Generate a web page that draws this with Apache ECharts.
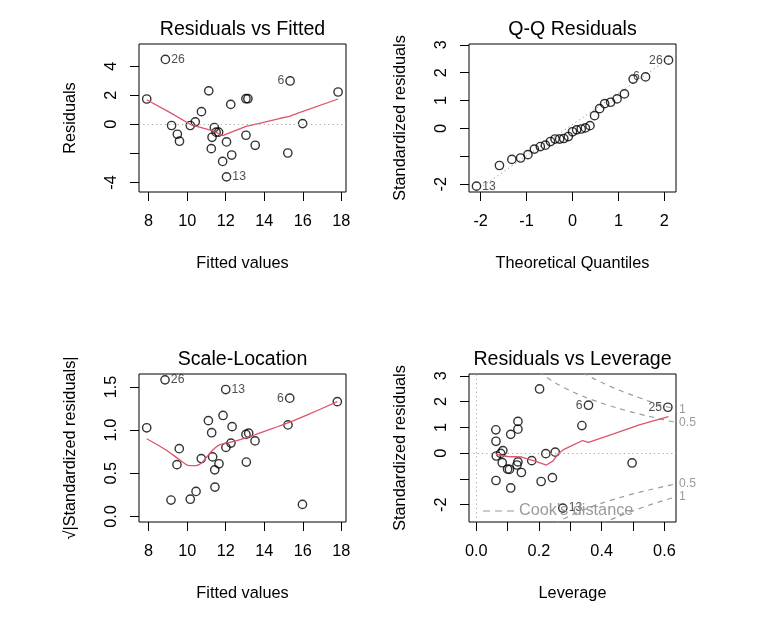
<!DOCTYPE html>
<html>
<head>
<meta charset="utf-8">
<script src="https://cdn.jsdelivr.net/npm/echarts@6/dist/echarts.min.js"></script>
<style>html,body{margin:0;padding:0;background:#fff}#c{width:772px;height:630px}</style>
</head>
<body>
<div id="c"></div>
<script>
const FONT = '"Liberation Sans", Arial, Helvetica, sans-serif';

// ---- Panel 1: Residuals vs Fitted ----
const rvfFitted = [7.90, 8.87, 9.19, 9.49, 9.60, 10.16, 10.42, 10.74, 11.12, 11.25, 11.29, 11.41, 11.50, 11.63, 11.84, 12.04, 12.04, 12.26, 12.31, 13.05, 13.15, 13.05, 13.53, 15.22, 15.34, 15.99, 17.83];
const rvfResid  = [1.74, 4.46, -0.08, -0.68, -1.16, -0.08, 0.17, 0.87, 2.30, -1.67, -0.89, -0.22, -0.54, -0.54, -2.55, -1.21, -3.61, 1.37, -2.11, 1.76, 1.76, -0.75, -1.44, -1.97, 2.98, 0.05, 2.22];
const rvfLabel  = ['', '26', '', '', '', '', '', '', '', '', '', '', '', '', '', '', '13', '', '', '', '', '', '', '', '6', '', ''];
const rvfSmoothX = [7.90, 9.07, 10.20, 11.31, 11.84, 13.05, 13.74, 14.78, 15.30, 15.82, 17.83];
const rvfSmoothY = [1.69, 0.84, -0.03, -0.43, -0.77, -0.14, 0.06, 0.40, 0.55, 0.80, 1.74];
const rvfXTicks = [8, 10, 12, 14, 16, 18];
const rvfYTicks = [-4, -2, 0, 2, 4];
const rvfYLabels = [-4, 0, 2, 4];

// ---- Panel 2: Q-Q Residuals ----
const qqTheo = [-2.09, -1.59, -1.32, -1.13, -0.97, -0.83, -0.70, -0.59, -0.48, -0.38, -0.28, -0.19, -0.09, 0.00, 0.09, 0.19, 0.28, 0.38, 0.48, 0.59, 0.70, 0.83, 0.97, 1.13, 1.32, 1.59, 2.09];
const qqStd  = [-2.07, -1.33, -1.11, -1.06, -0.94, -0.74, -0.65, -0.60, -0.47, -0.38, -0.38, -0.36, -0.29, -0.12, -0.05, -0.02, 0.02, 0.10, 0.46, 0.71, 0.89, 0.94, 1.06, 1.24, 1.77, 1.85, 2.45];
const qqLabel = ['13', '', '', '', '', '', '', '', '', '', '', '', '', '', '', '', '', '', '', '', '', '', '', '', '', '6', '26'];
const qqLineX = [-2.253, 2.253];
const qqLineY = [-2.40, 2.68];
const qqXTicks = [-2, -1, 0, 1, 2];
const qqYTicks = [-2, -1, 0, 1, 2, 3];
const qqYLabels = [-2, 0, 1, 2, 3];

// ---- Panel 3: Scale-Location ----
const slFitted = [7.90, 8.85, 9.16, 9.47, 9.59, 10.16, 10.46, 10.73, 11.10, 11.27, 11.32, 11.43, 11.44, 11.65, 11.86, 12.00, 12.01, 12.27, 12.33, 13.05, 13.07, 13.19, 13.52, 15.23, 15.32, 15.98, 17.79];
const slSqrt   = [1.027, 1.582, 0.19, 0.60, 0.785, 0.20, 0.29, 0.67, 1.11, 0.97, 0.69, 0.54, 0.34, 0.61, 1.17, 1.47, 0.80, 0.85, 1.04, 0.95, 0.63, 0.965, 0.875, 1.06, 1.37, 0.14, 1.33];
const slLabel  = ['', '26', '', '', '', '', '', '', '', '', '', '', '', '', '', '13', '', '', '', '', '', '', '', '', '6', '', ''];
const slSmoothX = [7.90, 8.90, 9.59, 10.11, 10.46, 10.80, 11.24, 11.67, 12.27, 13.05, 13.57, 14.44, 15.30, 16.17, 17.79];
const slSmoothY = [0.90, 0.77, 0.66, 0.59, 0.59, 0.63, 0.75, 0.83, 0.86, 0.91, 0.95, 1.02, 1.09, 1.17, 1.33];
const slYTicks = [0, 0.5, 1, 1.5];

// ---- Panel 4: Residuals vs Leverage ----
const lvHat = [0.0626, 0.063, 0.064, 0.085, 0.078, 0.083, 0.100, 0.106, 0.133, 0.130, 0.144, 0.110, 0.133, 0.133, 0.063, 0.110, 0.177, 0.222, 0.252, 0.207, 0.243, 0.337, 0.276, 0.202, 0.358, 0.497, 0.611];
const lvStd = [0.905, 0.46, -0.11, 0.10, -0.01, -0.37, -0.62, -0.63, -0.34, -0.46, -0.75, 0.73, 1.23, 0.93, -1.06, -1.35, -0.29, -0.02, 0.04, -1.10, -0.95, 1.07, -2.13, 2.49, 1.86, -0.38, 1.78];
const lvLabel = ['', '', '', '', '', '', '', '', '', '', '', '', '', '', '', '', '', '', '', '', '', '', '13', '', '6', '', '25'];
const lvSmoothX = [0.063, 0.10, 0.145, 0.185, 0.224, 0.245, 0.262, 0.28, 0.30, 0.339, 0.358, 0.44, 0.52, 0.613];
const lvSmoothY = [-0.05, -0.13, -0.15, -0.30, -0.46, -0.30, -0.02, 0.15, 0.26, 0.49, 0.42, 0.76, 1.10, 1.42];
const cook05UpH = [0.20, 0.22, 0.25, 0.30, 0.35, 0.40, 0.45, 0.50, 0.55, 0.60, 0.637];
const cook05UpY = [3.16, 2.98, 2.74, 2.42, 2.16, 1.94, 1.75, 1.58, 1.43, 1.29, 1.19];
const cook1UpH = [0.34, 0.37, 0.40, 0.45, 0.50, 0.55, 0.60, 0.637];
const cook1UpY = [3.12, 2.92, 2.74, 2.47, 2.24, 2.02, 1.83, 1.69];
const cook05LowH = [0.25, 0.30, 0.35, 0.40, 0.45, 0.50, 0.55, 0.60, 0.637];
const cook05LowY = [-2.74, -2.42, -2.16, -1.94, -1.75, -1.58, -1.43, -1.29, -1.19];
const cook1LowH = [0.40, 0.45, 0.50, 0.55, 0.60, 0.637];
const cook1LowY = [-2.74, -2.47, -2.24, -2.02, -1.83, -1.69];
const lvXTicks = [0, 0.1, 0.2, 0.3, 0.4, 0.5, 0.6];
const lvXLabels = [0, 0.2, 0.4, 0.6];
const lvYTicks = [-2, -1, 0, 1, 2, 3];
const lvYLabels = [-2, 0, 1, 2, 3];

// ---------------- build ----------------
const LS = 16.3;
const ranges = [
  {x: [7.5, 18.24], y: [-4.65, 5.52]},
  {x: [-2.253, 2.253], y: [-2.28, 3.03]},
  {x: [7.5, 18.24], y: [-0.064, 1.65]},
  {x: [-0.023, 0.637], y: [-2.67, 3.07]}
];
const gridBoxes = [
  {left: 139, top: 44, width: 207, height: 148},
  {left: 469, top: 44, width: 207, height: 148},
  {left: 139, top: 374, width: 207, height: 148},
  {left: 469, top: 374, width: 207, height: 148}
];
const grids = gridBoxes.map(g => Object.assign({show: true, borderColor: '#000', borderWidth: 1, backgroundColor: 'transparent'}, g));

function axis(gi, isY, ticks, labels, name, fmt) {
  const r = isY ? ranges[gi].y : ranges[gi].x;
  return {
    type: 'value', gridIndex: gi, min: r[0], max: r[1],
    name: name, nameLocation: 'middle', nameGap: isY ? 60 : 64,
    nameTextStyle: {fontSize: LS, color: '#000', fontFamily: FONT},
    axisLine: {show: false, onZero: false},
    splitLine: {show: false},
    axisTick: {show: true, length: 9, inside: false, lineStyle: {color: '#000', width: 1}, customValues: ticks},
    axisLabel: {show: true, customValues: labels, margin: isY ? 19 : 22, fontSize: LS, color: '#000',
      fontFamily: FONT, rotate: isY ? 90 : 0, formatter: fmt || (v => String(v))}
  };
}
const f1 = v => Number(v).toFixed(1);

function pts(xs, ys) { return xs.map((x, i) => [x, ys[i]]); }

function scatter(gi, xs, ys, labs) {
  const mid = (ranges[gi].x[0] + ranges[gi].x[1]) / 2;
  return {
    type: 'scatter', xAxisIndex: gi, yAxisIndex: gi, symbol: 'circle', symbolSize: 8.3, z: 3,
    itemStyle: {color: 'rgba(0,0,0,0)', borderColor: '#000', borderWidth: 1.4},
    label: {show: false, fontSize: 12.2, color: '#222', fontFamily: FONT, distance: 1},
    emphasis: {disabled: true}, silent: true,
    data: xs.map((x, i) => {
      const d = {value: [x, ys[i]]};
      if (labs[i]) d.label = {show: true, formatter: labs[i], position: x > mid ? 'left' : 'right'};
      return d;
    })
  };
}

function line(gi, xs, ys, lineStyle, extra) {
  return Object.assign({
    type: 'line', xAxisIndex: gi, yAxisIndex: gi, data: pts(xs, ys),
    symbol: 'none', showSymbol: false, silent: true, z: 4, clip: true,
    lineStyle: lineStyle, emphasis: {disabled: true}
  }, extra || {});
}

const RED = {color: '#DF536B', width: 1.3};
const DOT = {type: [1.3, 3], color: '#aaa', width: 1};
function refLines(data) {
  return {silent: true, symbol: ['none', 'none'], label: {show: false}, lineStyle: DOT, emphasis: {disabled: true}, data: data};
}
const GRAY = '#9a9a9a';
const COOK = {color: GRAY, width: 1.2, type: [5, 5]};
function cookLine(xs, ys, lab) {
  return line(3, xs, ys, COOK, {
    name: "Cook's distance", smooth: 0.3, z: 2,
    itemStyle: {color: GRAY},
    endLabel: {show: true, formatter: lab, color: GRAY, fontSize: 12.2, fontFamily: FONT, distance: 3}
  });
}

const series = [
  // panel 1
  scatter(0, rvfFitted, rvfResid, rvfLabel),
  line(0, rvfSmoothX, rvfSmoothY, RED, {markLine: refLines([{yAxis: 0}])}),
  // panel 2
  line(1, qqLineX, qqLineY, {type: [1.3, 3], color: '#999', width: 1}, {z: 2}),
  scatter(1, qqTheo, qqStd, qqLabel),
  // panel 3
  scatter(2, slFitted, slSqrt, slLabel),
  line(2, slSmoothX, slSmoothY, RED, {smooth: 0.3}),
  // panel 4
  cookLine(cook05UpH, cook05UpY, '0.5'),
  cookLine(cook1UpH, cook1UpY, '1'),
  cookLine(cook05LowH, cook05LowY, '0.5'),
  cookLine(cook1LowH, cook1LowY, '1'),
  scatter(3, lvHat, lvStd, lvLabel),
  line(3, lvSmoothX, lvSmoothY, RED, {markLine: refLines([{yAxis: 0}, {xAxis: 0}])})
];

const titles = [
  ['Residuals vs Fitted', 242.5, 30],
  ['Q-Q Residuals', 572.5, 30],
  ['Scale-Location', 242.5, 360],
  ['Residuals vs Leverage', 572.5, 360]
];

// dashed legend key: three dashes
const DASH_ICON = 'path://M0,0H7V1H0Z M12,0H19V1H12Z M24,0H31V1H24Z';

const option = {
  animation: false,
  backgroundColor: '#fff',
  textStyle: {fontFamily: FONT},
  grid: grids,
  xAxis: [
    axis(0, false, rvfXTicks, rvfXTicks, 'Fitted values'),
    axis(1, false, qqXTicks, qqXTicks, 'Theoretical Quantiles'),
    axis(2, false, rvfXTicks, rvfXTicks, 'Fitted values'),
    axis(3, false, lvXTicks, lvXLabels, 'Leverage', f1)
  ],
  yAxis: [
    axis(0, true, rvfYTicks, rvfYLabels, 'Residuals'),
    axis(1, true, qqYTicks, qqYLabels, 'Standardized residuals'),
    axis(2, true, slYTicks, slYTicks, '\u221A|Standardized residuals|', f1),
    axis(3, true, lvYTicks, lvYLabels, 'Standardized residuals')
  ],
  legend: {
    show: true, data: [{name: "Cook's distance", icon: DASH_ICON}], left: 483, top: 503, padding: 0,
    itemWidth: 31, itemHeight: 1.3, itemGap: 0, selectedMode: false,
    itemStyle: {color: GRAY, borderWidth: 0},
    textStyle: {color: GRAY, fontSize: LS, fontFamily: FONT}
  },
  series: series,
  graphic: titles.map(t => ({
    type: 'text', x: t[1], y: t[2], silent: true,
    style: {text: t[0], font: '19.6px ' + FONT, fill: '#000', align: 'center', verticalAlign: 'middle'}
  }))
};

const chart = echarts.init(document.getElementById('c'));
chart.setOption(option);
</script>
</body>
</html>
